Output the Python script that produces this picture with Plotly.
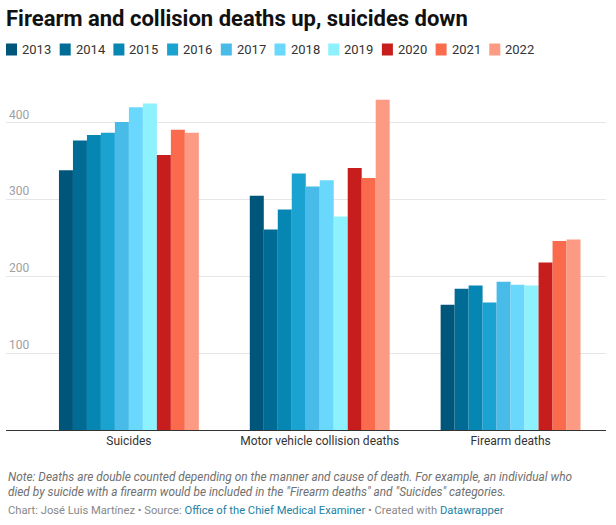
import plotly.graph_objects as go

categories = ["Suicides", "Motor vehicle collision deaths", "Firearm deaths"]
years = ["2013", "2014", "2015", "2016", "2017", "2018", "2019", "2020", "2021", "2022"]
suicides = [338, 377, 384, 387, 401, 420, 425, 358, 391, 387]
collisions = [305, 261, 287, 334, 317, 325, 278, 341, 328, 430]
firearms = [163, 184, 188, 166, 193, 189, 188, 218, 246, 248]
colors = ["#00557a", "#006c96", "#0687b3", "#1aa2d0", "#48bbe8",
          "#6ad7fc", "#8ef1fe", "#c71e1d", "#fa6a4d", "#fd9a84"]

W, H = 616, 525
L, R, T, B = 6, 10, 92, 95
PW, PH = W - L - R, H - T - B


def px_x(px):
    # pixel x -> paper x
    return (px - L) / PW


def px_y(py):
    # pixel y -> paper y
    return (H - B - py) / PH


fig = go.Figure()
for i, year in enumerate(years):
    fig.add_trace(go.Bar(
        x=categories,
        y=[suicides[i], collisions[i], firearms[i]],
        name=year,
        marker=dict(color=colors[i], line=dict(width=0)),
        showlegend=False,
    ))

# hand-made legend row, Datawrapper style
for i, year in enumerate(years):
    x0 = 6 + i * 53.7
    fig.add_shape(
        type="rect", xref="paper", yref="paper",
        x0=px_x(x0), x1=px_x(x0 + 11), y0=px_y(55.5), y1=px_y(43.5),
        fillcolor=colors[i], line=dict(width=0),
    )
    fig.add_annotation(
        xref="paper", yref="paper", x=px_x(x0 + 14), y=px_y(49.5),
        xanchor="left", yanchor="middle", showarrow=False,
        text=year, font=dict(size=13, color="#333333"),
    )

fig.update_layout(
    width=W, height=H,
    barmode="group", bargap=0.267, bargroupgap=0,
    plot_bgcolor="white", paper_bgcolor="white",
    font=dict(family="Roboto", size=12, color="#333333"),
    margin=dict(l=L, r=R, t=T, b=B, autoexpand=False),
    showlegend=False,
    title=dict(
        text="<b>Firearm and collision deaths up, suicides down</b>",
        x=6 / W, xanchor="left", xref="container",
        y=1 - 18 / H, yanchor="middle", yref="container",
        font=dict(family="Roboto", size=22, color="#111111"),
    ),
    xaxis=dict(
        range=[-0.644, 2.5], showline=True, linecolor="#333333", linewidth=1,
        showgrid=False, ticks="", tickfont=dict(size=12, color="#333333"),
        fixedrange=True,
    ),
    yaxis=dict(
        range=[0, 440], tickvals=[100, 200, 300, 400],
        showgrid=True, gridcolor="#e6e6e6", gridwidth=1,
        zeroline=False, ticklabelposition="inside top",
        tickfont=dict(size=12, color="#a0a0a0"), fixedrange=True,
    ),
)

fig.add_annotation(
    xref="paper", yref="paper", x=0, y=px_y(468), xanchor="left", yanchor="top",
    align="left", showarrow=False,
    text=("<i>Note: Deaths are double counted depending on the manner and cause of death. "
          "For example, an individual who<br>died by suicide with a firearm would be included "
          "in the \"Firearm deaths\" and \"Suicides\" categories.</i>"),
    font=dict(size=11.85, color="#707070"),
)
fig.add_annotation(
    xref="paper", yref="paper", x=0, y=px_y(502), xanchor="left", yanchor="top",
    align="left", showarrow=False,
    text=("Chart: José Luis Martínez • Source: "
          "<span style='color:#1d81a2'>Office of the Chief Medical Examiner</span>"
          " • Created with <span style='color:#1d81a2'>Datawrapper</span>"),
    font=dict(size=11.2, color="#888888"),
)

# drop the browser's default body margin so the chart sits at the page corner
fig.write_html("out.html", config={"displayModeBar": False},
               post_script="document.body.style.margin = '0';")
